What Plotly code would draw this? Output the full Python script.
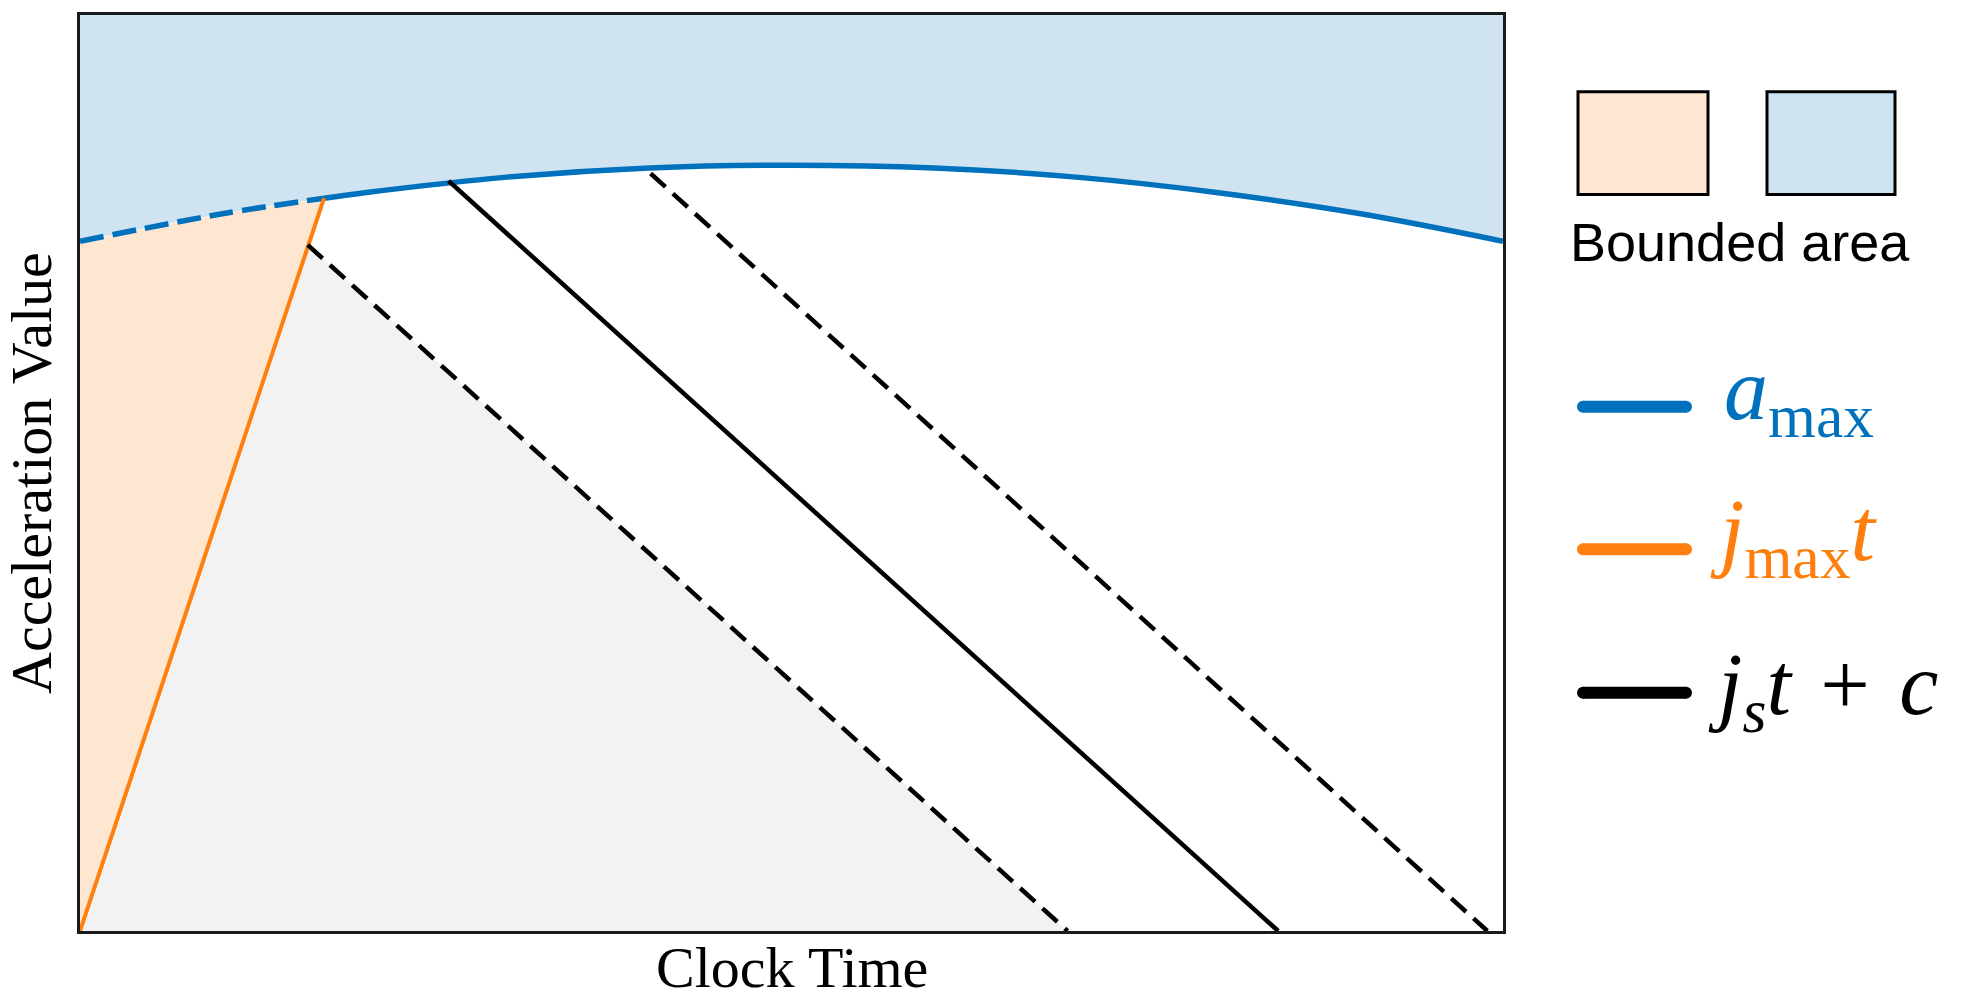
import plotly.graph_objects as go

# data (axes are unitless: 0..10 both ways)
t_grid = [0, 1, 2, 3, 4, 5, 6, 7, 8, 9, 10]
a_max_vals = [7.53, 7.83, 8.06, 8.23, 8.33, 8.36, 8.33, 8.23, 8.06, 7.83, 7.53]

# j_max * t meets a_max here
t_meet = 1.715
a_meet = 8.00

jmax_t = [0, t_meet]
jmax_a = [0, a_meet]

# three j_s*t + c lines: start point on the boundary, end on the time axis
js_t0 = [1.60, 2.59, 4.01]
js_a0 = [7.49, 8.19, 8.27]
js_t1 = [6.94, 8.42, 9.89]
js_styles = ["dash", "solid", "dash"]

BLUE = "#0072BD"
ORANGE = "#FF7F0E"
BLUE_FILL = "#CFE3F0"
PEACH_FILL = "#FFE6D1"
GREY_FILL = "#F2F2F2"

# plot box in pixels (for placing the hand made legend)
L, R, T, B = 80, 1503, 12, 931


def px_x(p):
    return (p - L) / (R - L)


def px_y(p):
    return (B - p) / (B - T)


def main() -> None:
    fig = go.Figure()

    # grey triangle under the lowest j_s line
    fig.add_trace(go.Scatter(
        x=[0, js_t0[0], js_t1[0], 0], y=[0, js_a0[0], 0, 0],
        mode="lines", fill="toself", fillcolor=GREY_FILL,
        line=dict(width=0), hoverinfo="skip"))

    # peach area left of j_max t
    left_t = [0] + [t for t in t_grid if t < t_meet] + [t_meet, 0]
    left_a = [0] + [a for t, a in zip(t_grid, a_max_vals) if t < t_meet] + [a_meet, 0]
    fig.add_trace(go.Scatter(
        x=left_t, y=left_a, mode="lines", fill="toself", fillcolor=PEACH_FILL,
        line=dict(width=0), hoverinfo="skip"))

    # blue area above a_max
    fig.add_trace(go.Scatter(
        x=[0, 10], y=[10, 10], mode="lines", line=dict(width=0), hoverinfo="skip"))
    fig.add_trace(go.Scatter(
        x=t_grid, y=a_max_vals, mode="lines", fill="tonexty", fillcolor=BLUE_FILL,
        line=dict(width=0, shape="spline"), hoverinfo="skip"))

    # a_max curve: dashed before the meeting point, solid after
    dash_t = [t for t in t_grid if t < t_meet] + [t_meet]
    dash_a = [a for t, a in zip(t_grid, a_max_vals) if t < t_meet] + [a_meet]
    solid_t = [t_meet] + [t for t in t_grid if t > t_meet]
    solid_a = [a_meet] + [a for t, a in zip(t_grid, a_max_vals) if t > t_meet]
    fig.add_trace(go.Scatter(x=dash_t, y=dash_a, mode="lines",
                             line=dict(color=BLUE, width=5.5, dash="24px,9px", shape="spline")))
    fig.add_trace(go.Scatter(x=solid_t, y=solid_a, mode="lines",
                             line=dict(color=BLUE, width=5.5, shape="spline")))

    # j_max t
    fig.add_trace(go.Scatter(x=jmax_t, y=jmax_a, mode="lines",
                             line=dict(color=ORANGE, width=4)))

    # j_s t + c
    for t0, a0, t1, st in zip(js_t0, js_a0, js_t1, js_styles):
        fig.add_trace(go.Scatter(
            x=[t0, t1], y=[a0, 0], mode="lines",
            line=dict(color="black", width=4.5, dash="20px,10px" if st == "dash" else "solid")))

    axis = dict(range=[0, 10], showgrid=False, zeroline=False, showticklabels=False,
                ticks="", showline=True, mirror=True, linecolor="#1a1a1a", linewidth=2.5)
    fig.update_xaxes(**axis)
    fig.update_yaxes(**axis)

    shapes = []
    # legend boxes
    for x0, x1, col in [(1578, 1708, PEACH_FILL), (1767, 1895, BLUE_FILL)]:
        shapes.append(dict(type="rect", xref="paper", yref="paper",
                           x0=px_x(x0), x1=px_x(x1), y0=px_y(192), y1=px_y(89),
                           fillcolor=col, line=dict(color="black", width=3)))
    # legend line keys with round ends
    for yy, col in [(405, BLUE), (548, ORANGE), (692, "black")]:
        shapes.append(dict(type="line", xref="paper", yref="paper",
                           x0=px_x(1583), x1=px_x(1686), y0=px_y(yy), y1=px_y(yy),
                           line=dict(color=col, width=12)))
        for cx in (1583, 1686):
            shapes.append(dict(type="circle", xref="paper", yref="paper",
                               x0=px_x(cx - 6), x1=px_x(cx + 6),
                               y0=px_y(yy + 6), y1=px_y(yy - 6),
                               fillcolor=col, line=dict(width=0)))

    serif = "Liberation Serif, Times New Roman, serif"
    annotations = [
        dict(text="Clock Time", x=0.5, y=px_y(968), xref="paper", yref="paper",
             showarrow=False, xanchor="center", yanchor="middle",
             font=dict(family=serif, size=58, color="black")),
        dict(text="Acceleration Value", x=px_x(31), y=0.5, xref="paper", yref="paper",
             showarrow=False, textangle=-90, xanchor="center", yanchor="middle",
             font=dict(family=serif, size=58, color="black")),
        dict(text="Bounded area", x=px_x(1740), y=px_y(240), xref="paper", yref="paper",
             showarrow=False, xanchor="center", yanchor="middle",
             font=dict(family="Liberation Sans, Arial, sans-serif", size=54, color="black")),
        dict(text="<i>a</i><sub>max</sub>", x=px_x(1722), y=px_y(394), xref="paper", yref="paper",
             showarrow=False, xanchor="left", yanchor="middle",
             font=dict(family=serif, size=88, color=BLUE)),
        dict(text="<i>j</i><sub>max</sub><i>t</i>", x=px_x(1708), y=px_y(535), xref="paper", yref="paper",
             showarrow=False, xanchor="left", yanchor="middle",
             font=dict(family=serif, size=88, color=ORANGE)),
        dict(text="<i>j</i><sub><i>s</i></sub><i>t</i> &#8202;+&#8202; <i>c</i>", x=px_x(1706), y=px_y(690),
             xref="paper", yref="paper",
             showarrow=False, xanchor="left", yanchor="middle",
             font=dict(family=serif, size=88, color="black")),
    ]

    fig.update_layout(
        width=1965, height=1000,
        margin=dict(l=L, r=1965 - R, t=T, b=1000 - B),
        plot_bgcolor="white", paper_bgcolor="white",
        showlegend=False, shapes=shapes, annotations=annotations,
    )

    # page body has a default margin; drop it so the figure sits at 0,0
    fig.write_html("out.html", config={"displayModeBar": False},
                   post_script="document.body.style.margin='0px';document.body.style.overflow='hidden';")


if __name__ == "__main__":
    main()
